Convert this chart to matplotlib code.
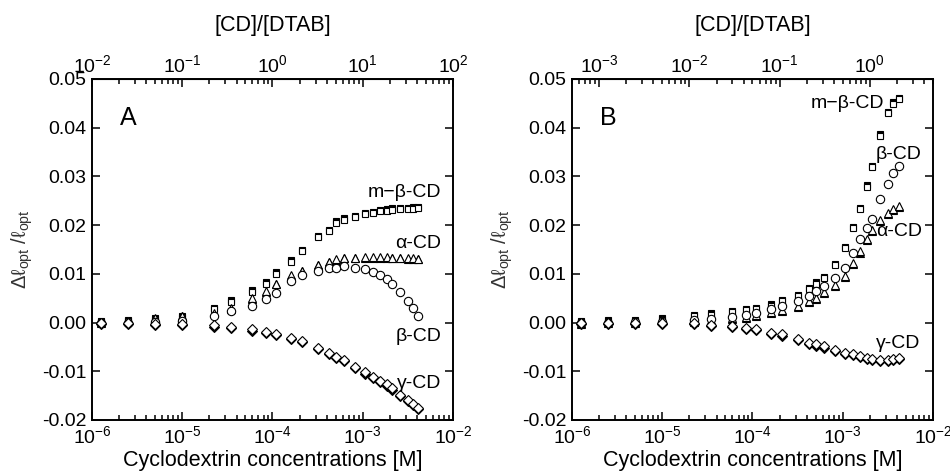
import matplotlib
matplotlib.use("Agg")
import matplotlib.pyplot as plt
import matplotlib.ticker as mticker
from matplotlib.transforms import offset_copy

plt.rcParams["font.family"] = ["Liberation Sans", "DejaVu Sans"]
plt.rcParams["mathtext.fontset"] = "custom"
plt.rcParams["mathtext.rm"] = "Liberation Sans"
plt.rcParams["mathtext.it"] = "Liberation Sans:italic"
plt.rcParams["axes.unicode_minus"] = False

# концентрации циклодекстрина, M
conc = [1.25e-6, 2.5e-6, 5e-6, 1e-5, 2.25e-5, 3.5e-5, 6e-5, 8.5e-5, 1.1e-4, 1.6e-4,
        2.1e-4, 3.2e-4, 4.2e-4, 5.1e-4, 6.2e-4, 8.3e-4, 1.05e-3, 1.3e-3, 1.55e-3,
        1.85e-3, 2.1e-3, 2.6e-3, 3.15e-3, 3.65e-3, 4.15e-3]

# панель A
a_mbcd = [0.0001, 0.0003, 0.0006, 0.0010, 0.0027, 0.0043, 0.0063, 0.0080, 0.0100, 0.0125,
          0.0147, 0.0175, 0.0188, 0.0205, 0.0211, 0.0216, 0.0222, 0.0225, 0.0228, 0.0230,
          0.0232, 0.0233, 0.0233, 0.0234, 0.0235]
a_acd = [0.0001, 0.0004, 0.0009, 0.0014, 0.0020, 0.0030, 0.0050, 0.0064, 0.0080, 0.0097,
         0.0106, 0.0119, 0.0125, 0.0130, 0.0133, 0.0133, 0.0134, 0.0134, 0.0134, 0.0134,
         0.0133, 0.0133, 0.0132, 0.0132, 0.0131]
a_bcd = [0.0000, 0.0000, 0.0002, 0.0003, 0.0014, 0.0024, 0.0035, 0.0048, 0.0061, 0.0086,
         0.0098, 0.0106, 0.0111, 0.0113, 0.0116, 0.0113, 0.0109, 0.0103, 0.0097, 0.0089,
         0.0080, 0.0062, 0.0045, 0.0030, 0.0014]
a_gcd = [0.0000, 0.0000, -0.0002, -0.0003, -0.0006, -0.0009, -0.0014, -0.0019, -0.0023, -0.0032,
         -0.0038, -0.0052, -0.0062, -0.0071, -0.0076, -0.0091, -0.0102, -0.0111, -0.0119, -0.0127,
         -0.0135, -0.0148, -0.0158, -0.0167, -0.0175]

# панель B
b_mbcd = [0.0001, 0.0002, 0.0003, 0.0006, 0.0013, 0.0016, 0.0021, 0.0025, 0.0028, 0.0035,
          0.0044, 0.0054, 0.0068, 0.0080, 0.0091, 0.0118, 0.0153, 0.0194, 0.0233, 0.0279,
          0.0319, 0.0384, 0.0430, 0.0449, 0.0459]
b_acd = [0.0000, 0.0001, 0.0002, 0.0006, 0.0004, 0.0006, 0.0009, 0.0012, 0.0015, 0.0021,
         0.0026, 0.0034, 0.0045, 0.0051, 0.0062, 0.0077, 0.0095, 0.0122, 0.0146, 0.0172,
         0.0190, 0.0210, 0.0225, 0.0233, 0.0240]
b_bcd = [0.0000, 0.0000, 0.0001, 0.0002, 0.0005, 0.0008, 0.0012, 0.0015, 0.0019, 0.0027,
         0.0035, 0.0044, 0.0055, 0.0064, 0.0075, 0.0092, 0.0113, 0.0142, 0.0172, 0.0194,
         0.0213, 0.0254, 0.0285, 0.0306, 0.0322]
b_gcd = [0.0000, 0.0000, 0.0000, 0.0000, -0.0001, -0.0004, -0.0007, -0.0011, -0.0013, -0.0021,
         -0.0024, -0.0033, -0.0041, -0.0045, -0.0049, -0.0056, -0.0062, -0.0065, -0.0069, -0.0072,
         -0.0074, -0.0076, -0.0076, -0.0075, -0.0072]

dtab = {"A": 1e-4, "B": 2e-3}
top_ticks = {"A": [1e-2, 1e-1, 1e0, 1e1, 1e2], "B": [1e-3, 1e-2, 1e-1, 1e0]}
series_labels = ["m\u2212\u03b2-CD", "\u03b1-CD", "\u03b2-CD", "\u03b3-CD"]
markers = ["s", "^", "o", "D"]
sizes = [5.0, 5.6, 6.0, 5.2]
# сдвиг залитого маркера под открытым, pt (по панелям)
shadow = {"A": [1.0, -0.4, 0, -0.9], "B": [1.0, -0.8, 0, -0.9]}

# правый край подписей серий в координатах данных (x, y): m-β, α, β, γ
label_pos = {
    "A": [(7.4e-3, 0.0268), (7.4e-3, 0.0162), (7.4e-3, -0.0029), (7.4e-3, -0.0126)],
    "B": [(2.85e-3, 0.0449), (7.6e-3, 0.0186), (7.5e-3, 0.0344), (7.2e-3, -0.0042)],
}

FS = 14
fig = plt.figure(figsize=(9.5, 4.75), dpi=100)
axes = {
    "A": fig.add_axes([0.0968, 0.1158, 0.38, 0.7179]),
    "B": fig.add_axes([0.6021, 0.1158, 0.38, 0.7179]),
}
data = {"A": [a_mbcd, a_acd, a_bcd, a_gcd], "B": [b_mbcd, b_acd, b_bcd, b_gcd]}

for name, ax in axes.items():
    for vals, m, ms, dy in zip(data[name], markers, sizes, shadow[name]):
        if dy:
            tr = offset_copy(ax.transData, fig=fig, x=0, y=dy, units="points")
            ax.plot(conc, vals, linestyle="none", marker=m, ms=ms, mfc="black",
                    mec="black", mew=0.8, transform=tr, zorder=2)
        ax.plot(conc, vals, linestyle="none", marker=m, ms=ms, mfc="white",
                mec="black", mew=0.8, zorder=3)

    ax.set_xscale("log")
    ax.set_xlim(1e-6, 1e-2)
    ax.set_ylim(-0.02, 0.05)
    ax.yaxis.set_major_locator(mticker.MultipleLocator(0.01))
    ax.yaxis.set_major_formatter(mticker.FuncFormatter(lambda v, p: f"{v:.2f}"))
    ax.xaxis.set_minor_locator(mticker.LogLocator(base=10, subs=range(2, 10), numticks=20))
    ax.xaxis.set_minor_formatter(mticker.NullFormatter())
    ax.tick_params(which="both", direction="in", top=False, right=True, labelsize=FS, width=1.1)
    ax.tick_params(which="major", length=6, pad=4)
    ax.tick_params(which="minor", length=3.5)
    for s in ax.spines.values():
        s.set_linewidth(1.4)

    k = dtab[name]
    sec = ax.secondary_xaxis("top", functions=(lambda c, k=k: c / k, lambda r, k=k: r * k))
    sec.set_xticks(top_ticks[name])
    sec.xaxis.set_major_formatter(mticker.LogFormatterSciNotation())
    sec.xaxis.set_minor_locator(mticker.LogLocator(base=10, subs=range(2, 10), numticks=20))
    sec.xaxis.set_minor_formatter(mticker.NullFormatter())
    sec.tick_params(which="both", direction="in", labelsize=FS, width=1.1)
    sec.tick_params(which="major", length=6, pad=2)
    sec.tick_params(which="minor", length=3.5)
    sec.set_xlabel("[CD]/[DTAB]", fontsize=FS + 1.5, labelpad=17)

    ax.set_xlabel("Cyclodextrin concentrations [M]", fontsize=FS + 1.5, labelpad=2)
    ax.set_ylabel("\u0394\u2113$_\\mathregular{opt}$ /\u2113$_\\mathregular{opt}$",
                  fontsize=FS + 0.5, color="#333333", labelpad=5)
    ax.text(0.1, 0.885, name, transform=ax.transAxes, fontsize=18, va="center", ha="center")

    for lab, (lx, ly) in zip(series_labels, label_pos[name]):
        ax.text(lx, ly, lab, fontsize=14, ha="right", va="center", zorder=4)

fig.savefig("out.png", dpi=100)
